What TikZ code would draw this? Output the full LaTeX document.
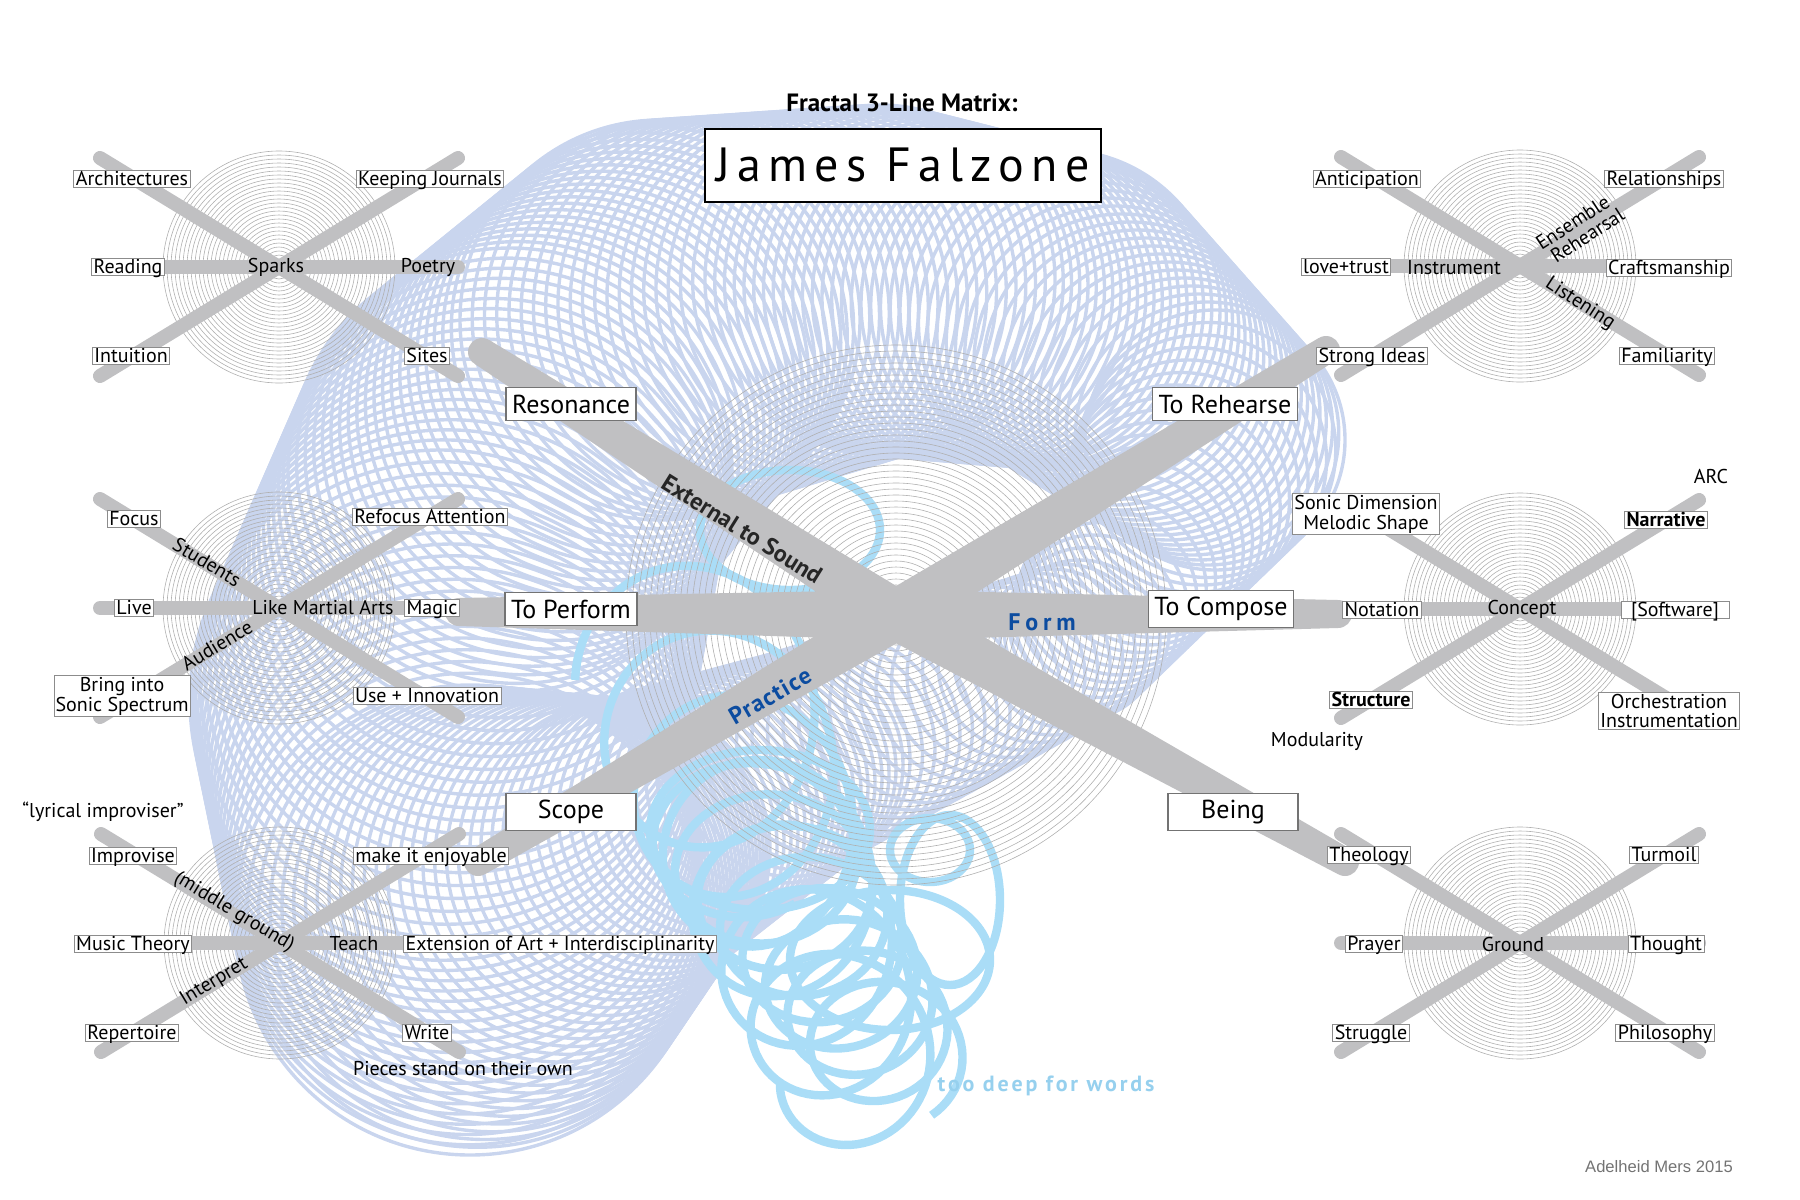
\documentclass[tikz,border=0pt]{standalone}
\usepackage{fontspec}
\setmainfont{PT Sans}
\newfontfamily\creditfont{Liberation Sans}
\usetikzlibrary{calc}

\definecolor{latticeblue}{RGB}{201,213,238}
\definecolor{skyblue}{RGB}{170,221,247}
\definecolor{spokegray}{RGB}{192,192,194}
\definecolor{ringgray}{RGB}{176,176,176}
\definecolor{taggray}{RGB}{140,140,140}
\definecolor{polegray}{RGB}{115,115,115}
\definecolor{formblue}{RGB}{12,76,160}
\definecolor{deepblue}{RGB}{150,208,238}

\newcommand{\tagfont}{\fontsize{10}{10}\selectfont}
\newcommand{\polefont}{\fontsize{13}{15}\selectfont}

\tikzset{
  lattice/.style={draw=latticeblue, line width=1.7pt},
  scribble/.style={draw=skyblue, line width=4.2pt},
  ring/.style={draw=ringgray, line width=0.3pt},
  twig/.style={draw=spokegray, line width=7pt, line cap=round},
  tag/.style={draw=taggray, line width=0.4pt, fill=white, inner xsep=1pt, inner ysep=0.5pt,
    text height=7pt, text depth=0.3pt, font=\tagfont},
  tagtwo/.style={draw=taggray, line width=0.4pt, fill=white, inner sep=0.8pt, align=center,
    font=\tagfont},
  word/.style={inner sep=0.5pt, font=\tagfont},
  pole/.style={draw=polegray, line width=0.8pt, fill=white, minimum width=65pt,
    minimum height=16.5pt, inner xsep=3pt, font=\polefont},
}

% rings and three twigs round one small hub
\newcommand{\smallmatrix}[3]{%
  \coordinate (#1) at (#2,#3);
  \foreach \r in {4,8,...,118} \draw[ring] (#1) circle (\r);
  \coordinate (#1-ul) at ($(#1)+(-179,-109)$);
  \coordinate (#1-ur) at ($(#1)+(179,-109)$);
  \coordinate (#1-ll) at ($(#1)+(-179,109)$);
  \coordinate (#1-lr) at ($(#1)+(179,109)$);
  \coordinate (#1-l) at ($(#1)+(-179,0)$);
  \coordinate (#1-r) at ($(#1)+(179,0)$);
  \draw[twig] (#1-ul) -- (#1-lr);
  \draw[twig] (#1-ll) -- (#1-ur);
  \draw[twig] (#1-l) -- (#1-r);
}

% tapered arm from the big hub
\newcommand{\mainspoke}[1]{%
  \fill[spokegray] ($(hub)!12.5pt!90:(#1)$) -- ($(#1)!7pt!-90:(hub)$)
    -- ($(#1)!7pt!90:(hub)$) -- ($(hub)!12.5pt!-90:(#1)$) -- cycle;
  \fill[spokegray] (#1) circle (7pt);
}

\begin{document}
\begin{tikzpicture}[x=0.5pt, y=-0.5pt]
\useasboundingbox (0,0) rectangle (1800,1200);

% torus lattice
\foreach \xa/\ya/\ra/\xb/\yb/\rb in {1215/440/130/1060/310/160, 1060/310/160/880/280/175,
    880/280/175/660/320/200, 660/320/200/510/470/222, 510/470/222/440/700/250,
    440/700/250/470/920/235, 470/920/235/620/850/150, 620/850/150/800/760/110,
    800/760/110/1080/640/80, 1080/640/80/1215/440/130}
  \foreach \s in {0,0.05,...,0.97} {
    \pgfmathsetmacro\cx{\xa+(\xb-\xa)*\s}
    \pgfmathsetmacro\cy{\ya+(\yb-\ya)*\s}
    \pgfmathsetmacro\cr{\ra+(\rb-\ra)*\s}
    \draw[lattice] (\cx,\cy) circle (\cr);
  }

% loops below the hub
\draw[scribble] plot[domain=0:1, samples=500, variable=\s]
  ({690+170*\s+(115-35*\s)*cos(2520*\s+180)}, {680+400*\s+(130-53*\s)*sin(2520*\s+180)});
\draw[scribble] plot[domain=0:1, samples=500, variable=\s]
  ({745+150*\s+(100-30*\s)*cos(2880*\s+60)}, {830+230*\s+(85-20*\s)*sin(2880*\s+60)});
\foreach \x/\y/\rx/\ry in {790/530/90/60, 950/900/50/85, 930/850/40/32, 890/960/100/70, 760/830/110/80}
  \draw[scribble] (\x,\y) ellipse [x radius=\rx, y radius=\ry];

% rings round the big hub
\coordinate (hub) at (896,615);
\foreach \r in {6,12,...,270} \draw[ring] (hub) circle (\r);

\smallmatrix{sparkhub}{279}{267}
\smallmatrix{martialhub}{279}{608}
\smallmatrix{teachhub}{280}{943}
\smallmatrix{instrhub}{1520}{266}
\smallmatrix{concepthub}{1520}{609}
\smallmatrix{groundhub}{1520}{943}

\coordinate (resonanceend) at (482,352);
\coordinate (rehearseend) at (1326,350);
\coordinate (performend) at (459,612);
\coordinate (composeend) at (1338,614);
\coordinate (scopeend) at (478,862);
\coordinate (beingend) at (1345,862);
\foreach \e in {resonanceend,rehearseend,performend,composeend,scopeend,beingend}
  \mainspoke{\e}
\fill[spokegray] (hub) circle (12.5pt);

\node[font=\bfseries\fontsize{12.5}{14}\selectfont] (title) at (902,103) {Fractal 3-Line Matrix:};
\node[draw=black, line width=1pt, fill=white, minimum width=198pt, minimum height=36.5pt,
  font=\fontsize{24}{28}\selectfont\addfontfeature{LetterSpace=15}] (name) at (903,165) {James Falzone};

\node[pole] (resonance) at (571,404) {Resonance};
\node[pole] (rehearse) at (1225,404) {To Rehearse};
\node[pole] (perform) at (571,609) {To Perform};
\node[pole] (compose) at (1221,609) {To Compose};
\node[pole] (scope) at (571,812) {Scope};
\node[pole] (being) at (1233,812) {Being};

\node[rotate=-32, text=black!85, font=\bfseries\fontsize{12}{14}\selectfont] (external) at (742,529) {External to Sound};
\node[text=formblue, font=\bfseries\fontsize{12}{14}\selectfont\addfontfeature{LetterSpace=20}] (form) at (1042,622) {Form};
\node[rotate=30, text=formblue, font=\bfseries\fontsize{12}{14}\selectfont\addfontfeature{LetterSpace=6}] (practice) at (770,696) {Practice};

\node[tag] (arch) at (132,179) {Architectures};
\node[tag] (journals) at (430,179) {Keeping Journals};
\node[tag] (reading) at (128,267) {Reading};
\node[word] (sparks) at (276,267) {Sparks};
\node[word] (poetry) at (428,267) {Poetry};
\node[tag] (intuition) at (131,356) {Intuition};
\node[tag] (sites) at (427,356) {Sites};

\node[tag] (focus) at (134,519) {Focus};
\node[tag] (refocus) at (430,517) {Refocus Attention};
\node[word, rotate=-31] (students) at (207,562) {Students};
\node[tag] (live) at (134,608) {Live};
\node[word] (martial) at (323,608) {Like Martial Arts};
\node[tag] (magic) at (432,608) {Magic};
\node[word, rotate=31] (audience) at (217,645) {Audience};
\node[tagtwo] (bring) at (122,696) {Bring into\\Sonic Spectrum};
\node[tag] (innovation) at (427,696) {Use + Innovation};

\node[word] (lyrical) at (103,812) {“lyrical improviser”};
\node[tag] (improvise) at (133,856) {Improvise};
\node[tag] (enjoyable) at (431,856) {make it enjoyable};
\node[word, rotate=-31] (middle) at (234,912) {(middle ground)};
\node[tag] (theory) at (133,944) {Music Theory};
\node[word] (teach) at (354,944) {Teach};
\node[tag] (extension) at (560,944) {Extension of Art + Interdisciplinarity};
\node[word, rotate=31] (interpret) at (214,982) {Interpret};
\node[tag] (repertoire) at (132,1033) {Repertoire};
\node[tag] (write) at (427,1033) {Write};
\node[word] (pieces) at (463,1069) {Pieces stand on their own};

\node[tag] (anticipation) at (1367,179) {Anticipation};
\node[tag] (relationships) at (1664,179) {Relationships};
\node[word, rotate=33, align=left, font=\fontsize{10}{9.5}\selectfont] (ensemble) at (1580,229) {Ensemble\\\ Rehearsal};
\node[tag] (love) at (1346,267) {love+trust};
\node[word] (instrument) at (1454,268) {Instrument};
\node[tag] (craft) at (1669,268) {Craftsmanship};
\node[word, rotate=-33] (listening) at (1580,304) {Listening};
\node[tag] (ideas) at (1372,356) {Strong Ideas};
\node[tag] (familiarity) at (1667,356) {Familiarity};

\node[word] (arc) at (1711,476) {ARC};
\node[tagtwo] (sonic) at (1366,514) {Sonic Dimension\\Melodic Shape};
\node[tag, font=\tagfont\bfseries] (narrative) at (1666,520) {Narrative};
\node[tag] (notation) at (1382,610) {Notation};
\node[word] (concept) at (1522,609) {Concept};
\node[tag, minimum width=54pt] (software) at (1675,610) {[Software]};
\node[tag, font=\tagfont\bfseries] (structure) at (1371,700) {Structure};
\node[tagtwo, font=\fontsize{10}{9.5}\selectfont] (orchestration) at (1669,711) {Orchestration\\Instrumentation};
\node[word] (modularity) at (1317,741) {Modularity};

\node[tag] (theology) at (1369,855) {Theology};
\node[tag] (turmoil) at (1664,855) {Turmoil};
\node[tag] (prayer) at (1374,944) {Prayer};
\node[word] (ground) at (1513,944) {Ground};
\node[tag] (thought) at (1666,944) {Thought};
\node[tag] (struggle) at (1371,1033) {Struggle};
\node[tag] (philosophy) at (1665,1033) {Philosophy};

\node[text=deepblue, font=\bfseries\fontsize{11}{12}\selectfont\addfontfeature{LetterSpace=13}] (deep) at (1046,1086) {too deep for words};
\node[text=black!55, font=\creditfont\fontsize{8.3}{10}\selectfont] (credit) at (1659,1167) {Adelheid Mers 2015};
\end{tikzpicture}
\end{document}
